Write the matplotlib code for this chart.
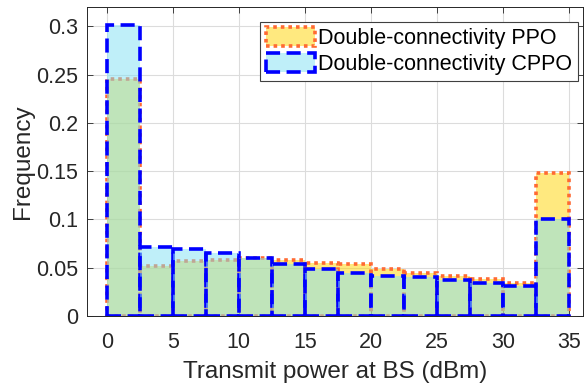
import numpy as np
import matplotlib
matplotlib.use("Agg")
import matplotlib.pyplot as plt

plt.rcParams['font.family'] = ['Liberation Sans', 'DejaVu Sans']

# bin edges (dBm) and frequencies
bin_left = np.arange(0, 35, 2.5)
freq_ppo = [0.245, 0.052, 0.057, 0.058, 0.060, 0.058, 0.055,
            0.0535, 0.049, 0.045, 0.042, 0.0385, 0.034, 0.148]
freq_cppo = [0.301, 0.071, 0.069, 0.0655, 0.0605, 0.0535, 0.049,
             0.045, 0.042, 0.040, 0.037, 0.034, 0.031, 0.100]
labels = ["Double-connectivity PPO", "Double-connectivity CPPO"]

fig = plt.figure(figsize=(5.88, 3.85), dpi=100)
ax = fig.add_axes([0.148, 0.179, 0.843, 0.803])

ax.bar(bin_left, freq_ppo, width=2.5, align='edge',
       facecolor=(1.0, 0.83, 0.0, 0.5), edgecolor='#FF6A33',
       linewidth=2.6, linestyle=(0, (1, 1.1)), label=labels[0], zorder=2)
ax.bar(bin_left, freq_cppo, width=2.5, align='edge',
       facecolor=(0.5, 0.88, 0.96, 0.5), edgecolor='#0000FF',
       linewidth=2.6, linestyle=(0, (3.9, 1.8)), label=labels[1], zorder=3)

ax.set_xlim(-1.5, 36.05)
ax.set_ylim(0, 0.32)
ax.set_xticks(np.arange(0, 36, 5))
ax.set_yticks([0, 0.05, 0.1, 0.15, 0.2, 0.25, 0.3])
ax.set_yticklabels(["0", "0.05", "0.1", "0.15", "0.2", "0.25", "0.3"])
ax.tick_params(direction='in', top=True, right=True, labelsize=15.5,
               colors='#262626', length=4, width=0.6)
ax.tick_params(axis='x', pad=11.5)
ax.tick_params(axis='y', pad=6.5)
ax.grid(True, color='#DCDCDC', linewidth=0.8, zorder=0)
ax.set_axisbelow(True)
for s in ax.spines.values():
    s.set_color('#262626')
    s.set_linewidth(0.7)

ax.set_xlabel("Transmit power at BS (dBm)", fontsize=17.5, color='#262626',
              labelpad=6)
ax.set_ylabel("Frequency", fontsize=17.5, color='#262626', labelpad=1.5)

leg = ax.legend(loc='upper right', bbox_to_anchor=(0.99, 0.951),
                fontsize=15.5, fancybox=False, framealpha=1,
                edgecolor='#404040', handlelength=2.3, handleheight=0.95,
                borderpad=0.25, labelspacing=0.2, handletextpad=0.15,
                borderaxespad=0)
leg.get_frame().set_linewidth(0.8)

fig.savefig("out.png", dpi=100)
